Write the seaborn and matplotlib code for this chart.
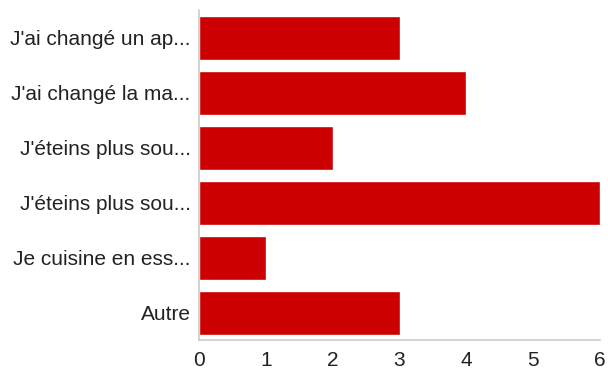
import matplotlib
matplotlib.use("Agg")
import matplotlib.pyplot as plt
import seaborn as sns
import pandas as pd

categories = [
    "J'ai changé un ap...",
    "J'ai changé la ma...",
    "J'éteins plus sou...",
    "J'éteins plus sou...",
    "Je cuisine en ess...",
    "Autre",
]
counts = [3, 4, 2, 6, 1, 3]
x_ticks = [0, 1, 2, 3, 4, 5, 6]

sns.set_theme(style="white")
plt.rcParams["font.family"] = ["Liberation Sans", "DejaVu Sans"]

# two answers share the same truncated text, so bars are keyed by position
df = pd.DataFrame({"rang": [str(i) for i in range(len(categories))],
                   "nombre": counts})

fig = plt.figure(figsize=(6.08, 3.69), dpi=100)
ax = fig.add_axes([199 / 608, 1 - 340 / 369, 401 / 608, 330 / 369])

sns.barplot(data=df, x="nombre", y="rang", orient="h", color="#cc0000",
            saturation=1, width=0.8, ax=ax)

ax.set_xlim(0, 6)
ax.set_ylim(5.5, -0.5)
ax.set_xticks(x_ticks)
ax.set_yticks(range(len(categories)))
ax.set_yticklabels(categories)
ax.set_xlabel("")
ax.set_ylabel("")
for side in ["top", "right"]:
    ax.spines[side].set_visible(False)
for side in ["left", "bottom"]:
    ax.spines[side].set_color("#cccccc")
    ax.spines[side].set_linewidth(1.2)
ax.tick_params(axis="both", which="both", length=4, color="#cccccc",
               labelsize=15, labelcolor="#222222", direction="out")
ax.tick_params(axis="x", pad=4)
ax.tick_params(axis="y", pad=2)

fig.savefig("out.png", dpi=100)
